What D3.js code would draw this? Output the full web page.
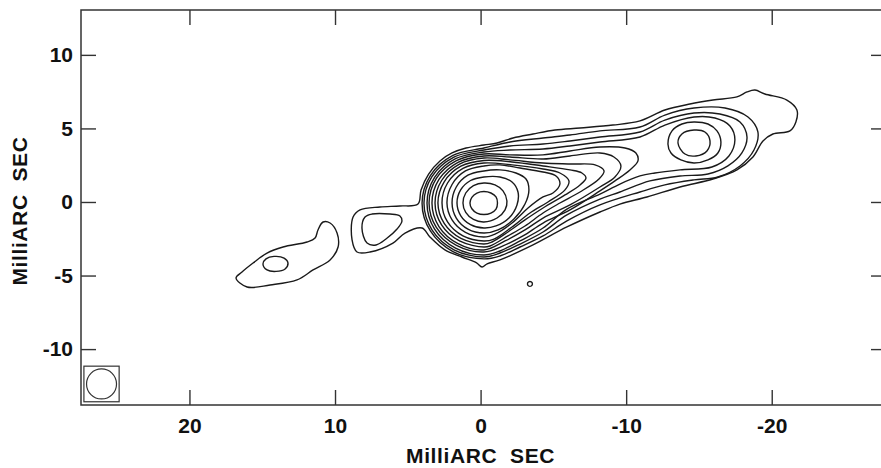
<!DOCTYPE html>
<html>
<head>
<meta charset="utf-8">
<script src="https://cdn.jsdelivr.net/npm/d3@7"></script>
<style>
  body { margin: 0; background: #fff; }
  svg { display: block; }
  .tick text { font-family: "Liberation Sans", Arial, sans-serif; font-weight: bold; font-size: 21px; fill: #111; }
  .axis-title { font-family: "Liberation Sans", Arial, sans-serif; font-weight: bold; font-size: 21px; letter-spacing: 0.6px; fill: #111; }
</style>
</head>
<body>
<svg></svg>
<script>
const margin = {t: 10, r: -5, b: 63, l: 81};
const size = {w: 881, h: 468};

// axis ranges and ticks (milliarcsec, RA increases to the left)
const xDomain = [27.45, -27.85];
const yDomain = [-13.8, 13.05];
const xTicks = [20, 10, 0, -10, -20];
const yTicks = [10, 5, 0, -5, -10];
const axisTitle = 'MilliARC  SEC';

// restoring beam: [x, y, diameter]
const beam = [26.04, -12.37, 2.06];
const beamBox = 2.42;

const e1 = [[8.83,-2.58],[8.76,-1.02],[8.28,-0.54],[6.91,-0.34],[5.54,-0.27],[4.30,-0.14],[4.09,0.82],[3.57,1.90],[2.79,2.79],[1.96,3.33],[1.00,3.67],[-0.23,3.87],[-1.13,4.01],[-2.23,4.35],[-3.60,4.62],[-5.11,4.89],[-6.83,5.03],[-9.09,5.23],[-10.95,5.51],[-12.66,6.25],[-14.38,6.66],[-15.96,6.93],[-17.61,7.14],[-18.30,7.48],[-18.85,7.61],[-19.53,7.34],[-21.04,6.93],[-21.73,6.25],[-21.66,5.44],[-21.25,4.83],[-20.08,4.62],[-19.40,4.15],[-18.71,3.06],[-17.61,2.18],[-15.96,1.56],[-13.70,1.02],[-11.43,0.34],[-9.57,-0.14],[-8.20,-0.68],[-5.93,-1.70],[-3.60,-2.92],[-1.33,-3.94],[-0.45,-4.20],[-0.10,-4.42],[0.30,-4.12],[1.28,-3.74],[2.45,-3.26],[3.48,-2.38],[4.02,-1.77],[5.19,-2.11],[6.02,-2.79],[7.60,-3.40],[8.49,-3.40]];
const e2 = [[4.02,-0.07],[3.45,1.80],[1.90,3.17],[-0.23,3.67],[-2.02,4.08],[-4.29,4.35],[-6.14,4.55],[-8.20,4.83],[-10.95,5.10],[-12.66,5.91],[-14.66,6.39],[-16.79,6.39],[-18.37,5.78],[-19.05,4.76],[-18.78,3.53],[-17.82,2.45],[-16.30,1.70],[-14.66,1.50],[-12.66,1.16],[-10.95,0.68],[-8.20,-0.20],[-5.93,-1.29],[-4.29,-2.31],[-2.71,-3.06],[-1.33,-3.67],[-0.23,-3.87],[1.90,-3.37],[3.45,-1.97]];
const e3 = [[3.89,-0.07],[3.34,1.73],[1.83,3.05],[-0.23,3.53],[-2.02,3.81],[-4.29,3.94],[-6.14,4.15],[-8.20,4.42],[-10.95,4.76],[-12.66,5.57],[-14.66,6.05],[-16.44,5.98],[-17.82,5.44],[-18.30,4.42],[-17.95,3.33],[-16.99,2.45],[-15.62,1.90],[-13.70,1.77],[-11.63,1.43],[-9.57,0.68],[-8.20,0.20],[-5.93,-0.88],[-4.29,-2.04],[-2.71,-2.86],[-1.33,-3.47],[-0.23,-3.74],[1.83,-3.25],[3.34,-1.90]];
const e4 = [[3.68,-0.07],[3.16,1.67],[1.72,2.94],[-0.23,3.40],[-2.02,3.53],[-4.29,3.60],[-6.14,3.81],[-8.20,4.08],[-10.95,4.42],[-12.66,5.23],[-14.66,5.78],[-16.10,5.71],[-17.13,5.17],[-17.47,4.21],[-17.06,3.13],[-15.89,2.38],[-13.70,2.18],[-11.98,1.97],[-10.95,1.77],[-9.57,1.22],[-8.20,0.54],[-5.93,-0.48],[-4.29,-1.77],[-2.71,-2.65],[-1.33,-3.33],[-0.23,-3.60],[1.72,-3.13],[3.16,-1.84]];
const c5 = [[3.54,-0.07],[3.04,1.60],[1.66,2.81],[-0.23,3.26],[-2.02,3.20],[-4.29,3.20],[-6.14,3.47],[-8.20,3.74],[-9.92,3.67],[-10.67,3.33],[-10.81,2.79],[-10.26,2.18],[-9.23,1.43],[-8.20,0.75],[-6.14,-0.54],[-4.29,-1.43],[-2.91,-2.31],[-1.54,-2.99],[-0.23,-3.40],[1.66,-2.95],[3.04,-1.73]];
const c6 = [[3.34,-0.07],[2.86,1.53],[1.55,2.70],[-0.23,3.13],[-2.02,3.06],[-4.29,2.92],[-6.14,3.13],[-8.20,3.33],[-9.16,3.06],[-9.64,2.45],[-9.23,1.70],[-8.20,1.02],[-6.14,-0.20],[-4.29,-1.09],[-3.05,-1.90],[-1.68,-2.65],[-0.23,-3.26],[1.55,-2.83],[2.86,-1.67]];
const c7 = [[3.13,-0.07],[2.68,1.46],[1.45,2.58],[-0.23,2.99],[-2.02,2.86],[-4.29,2.65],[-6.28,2.58],[-7.86,2.52],[-8.48,2.11],[-8.13,1.56],[-6.83,0.68],[-5.45,-0.07],[-4.29,-0.75],[-3.05,-1.63],[-1.88,-2.31],[-0.65,-2.99],[-0.23,-3.06],[1.45,-2.65],[2.68,-1.56]];
const c8 = [[2.93,-0.07],[2.50,1.37],[1.35,2.43],[-0.23,2.82],[-2.16,2.72],[-4.29,2.45],[-6.14,2.18],[-6.96,1.97],[-7.24,1.63],[-6.83,1.16],[-5.80,0.48],[-4.29,-0.41],[-3.05,-1.22],[-1.88,-2.04],[-0.78,-2.72],[-0.23,-2.86],[1.35,-2.48],[2.50,-1.46]];
const c9 = [[2.65,-0.07],[2.27,1.29],[1.21,2.28],[-0.23,2.65],[-2.16,2.52],[-4.29,2.24],[-5.45,1.97],[-6.07,1.43],[-5.80,0.82],[-4.63,0.00],[-3.39,-0.75],[-2.16,-1.70],[-0.92,-2.52],[-0.23,-2.65],[1.21,-2.31],[2.27,-1.36]];
const c10 = [[2.31,-0.07],[1.96,1.19],[1.04,2.11],[-0.23,2.45],[-1.33,2.52],[-2.71,2.31],[-4.29,2.04],[-5.18,1.77],[-5.45,1.22],[-4.97,0.61],[-4.29,0.34],[-3.26,-0.41],[-2.16,-1.43],[-0.99,-2.18],[-0.23,-2.38],[1.04,-2.07],[1.96,-1.22]];
const c11 = [[1.96,-0.07],[1.67,1.02],[0.87,1.82],[-0.23,2.11],[-1.33,2.18],[-2.43,1.97],[-3.12,1.56],[-3.32,0.82],[-3.05,-0.14],[-2.29,-1.16],[-1.20,-1.90],[-0.23,-2.11],[0.87,-1.84],[1.67,-1.09]];
const c12 = [[1.62,-0.07],[1.37,0.82],[0.69,1.46],[-0.23,1.70],[-1.33,1.70],[-2.16,1.36],[-2.57,0.68],[-2.50,-0.20],[-1.95,-1.09],[-1.06,-1.63],[-0.23,-1.77],[0.69,-1.54],[1.37,-0.92]];
const c13 = [[1.21,-0.07],[1.02,0.61],[0.49,1.11],[-0.23,1.29],[-0.99,1.16],[-1.54,0.75],[-1.81,0.07],[-1.68,-0.54],[-1.13,-1.09],[-0.23,-1.36],[0.49,-1.19],[1.02,-0.71]];
const c14 = [[0.73,-0.07],[0.60,0.32],[0.25,0.61],[-0.23,0.71],[-0.71,0.61],[-1.06,0.34],[-1.16,-0.07],[-1.06,-0.48],[-0.71,-0.75],[-0.23,-0.85],[0.25,-0.75],[0.60,-0.46]];
const knot5 = [[-12.87,3.94],[-13.15,4.83],[-13.83,5.30],[-14.66,5.44],[-15.62,5.30],[-16.24,4.83],[-16.51,4.08],[-16.30,3.33],[-15.62,2.86],[-14.66,2.65],[-13.76,2.86],[-13.08,3.33]];
const knot6 = [[-13.56,4.01],[-13.83,4.62],[-14.66,4.89],[-15.41,4.76],[-15.76,4.15],[-15.55,3.47],[-14.79,3.13],[-14.04,3.26]];
const bridge2 = [[8.15,-1.77],[7.94,-1.02],[7.46,-0.82],[6.22,-0.82],[5.54,-0.95],[5.40,-1.29],[5.74,-1.84],[6.50,-2.52],[7.18,-2.92],[7.80,-2.79]];
const east1 = [[16.80,-5.17],[16.39,-4.76],[15.63,-4.15],[14.67,-3.47],[13.57,-3.06],[11.92,-2.72],[11.37,-2.45],[11.17,-1.90],[10.82,-1.36],[10.34,-1.43],[9.86,-2.11],[9.79,-3.06],[10.34,-3.94],[11.51,-4.62],[12.61,-5.30],[14.46,-5.64],[16.04,-5.78]];
const east2 = [[14.95,-4.21],[14.74,-3.87],[14.19,-3.70],[13.50,-3.81],[13.23,-4.15],[13.43,-4.55],[14.05,-4.72],[14.67,-4.62]];
const speck = [[-3.22,-5.57],[-3.30,-5.43],[-3.48,-5.43],[-3.56,-5.57],[-3.48,-5.71],[-3.30,-5.71]];

const contours = [e1, e2, e3, e4, c5, c6, c7, c8, c9, c10, c11, c12, c13, c14,
    knot5, knot6, bridge2, east1, east2, speck];

const svg = d3.select('svg')
    .attr('width', size.w)
    .attr('height', size.h);

const x = d3.scaleLinear()
    .domain(xDomain)
    .range([margin.l, size.w - margin.r]);
const y = d3.scaleLinear()
    .domain(yDomain)
    .range([size.h - margin.b, margin.t]);

const line = d3.line()
    .x(d => x(d[0]))
    .y(d => y(d[1]))
    .curve(d3.curveCatmullRomClosed.alpha(0.5));

svg.append('g')
    .classed('contours', true)
    .selectAll('path')
    .data(contours)
    .enter()
    .append('path')
    .attr('d', d => line(d))
    .attr('fill', 'none')
    .attr('stroke', '#1a1a1a')
    .attr('stroke-width', 1.4);

// beam in the corner
let bx0 = x(beam[0] + beamBox / 2), bx1 = x(beam[0] - beamBox / 2);
let by0 = y(beam[1] + beamBox / 2), by1 = y(beam[1] - beamBox / 2);
svg.append('rect')
    .attr('x', bx0)
    .attr('y', by0)
    .attr('width', bx1 - bx0)
    .attr('height', by1 - by0)
    .attr('fill', 'none')
    .attr('stroke', '#333')
    .attr('stroke-width', 1.2);
svg.append('circle')
    .attr('cx', x(beam[0]))
    .attr('cy', y(beam[1]))
    .attr('r', x(0) - x(beam[2] / 2))
    .attr('fill', 'none')
    .attr('stroke', '#333')
    .attr('stroke-width', 1.2);

// frame
svg.append('rect')
    .attr('x', x.range()[0])
    .attr('y', y.range()[1])
    .attr('width', x.range()[1] - x.range()[0])
    .attr('height', y.range()[0] - y.range()[1])
    .attr('fill', 'none')
    .attr('stroke', '#333')
    .attr('stroke-width', 1.5);

function styleAxis(g) {
    g.select('.domain').remove();
    g.selectAll('.tick line').attr('stroke', '#333').attr('stroke-width', 1.4);
}

const plain = d => String(d);

svg.append('g')
    .attr('transform', 'translate(0,' + y.range()[0] + ')')
    .call(d3.axisBottom(x).tickValues(xTicks).tickFormat(plain).tickSize(-15).tickPadding(13))
    .call(styleAxis);
svg.append('g')
    .attr('transform', 'translate(0,' + y.range()[1] + ')')
    .call(d3.axisTop(x).tickValues(xTicks).tickSize(-15).tickFormat(''))
    .call(styleAxis);
svg.append('g')
    .attr('transform', 'translate(' + x.range()[0] + ',0)')
    .call(d3.axisLeft(y).tickValues(yTicks).tickFormat(plain).tickSize(-15).tickPadding(8))
    .call(styleAxis);
svg.append('g')
    .attr('transform', 'translate(' + x.range()[1] + ',0)')
    .call(d3.axisRight(y).tickValues(yTicks).tickSize(-15).tickFormat(''))
    .call(styleAxis);

svg.selectAll('.tick text').attr('font-family', null).attr('font-size', null);

svg.append('text')
    .classed('axis-title', true)
    .attr('x', x(0))
    .attr('y', 463)
    .attr('text-anchor', 'middle')
    .style('white-space', 'pre')
    .text(axisTitle);
svg.append('text')
    .classed('axis-title', true)
    .attr('transform', 'translate(27,' + 211 + ') rotate(-90)')
    .attr('text-anchor', 'middle')
    .style('white-space', 'pre')
    .text(axisTitle);
</script>
</body>
</html>
